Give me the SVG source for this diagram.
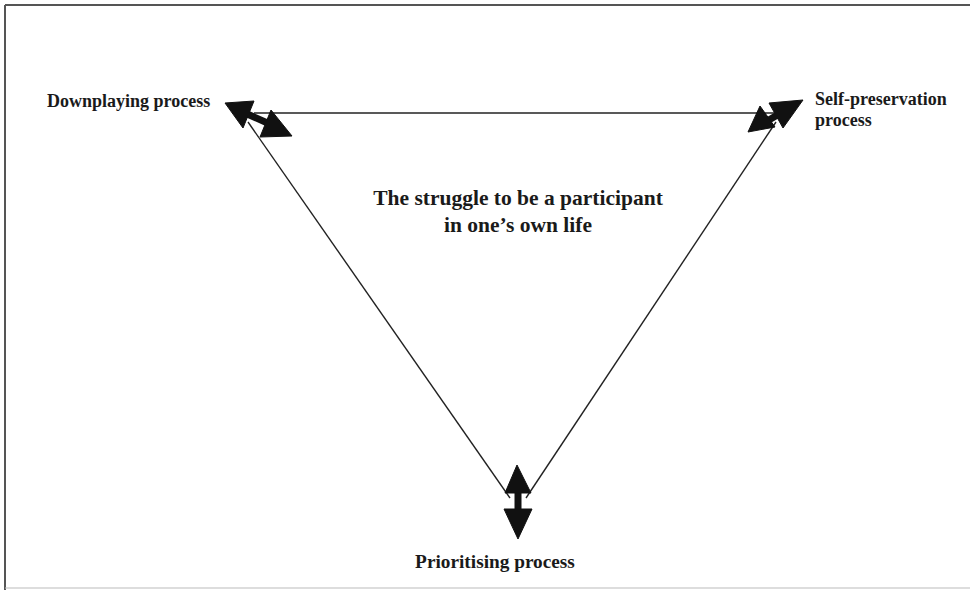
<svg xmlns="http://www.w3.org/2000/svg" width="970" height="590" viewBox="0 0 970 590">
<style>
.t{font-family:"Liberation Serif","Times New Roman",serif;font-weight:bold;font-size:18px;fill:#1a1a1a}
.c{font-size:21.5px}
.ln{stroke:#222;stroke-width:1.4;fill:none}
.ah{fill:#111;stroke:#111;stroke-width:1}
.sh{stroke:#111;stroke-width:7;fill:none}
</style>
<rect width="970" height="590" fill="#fff"/>
<g id="frame">
<line x1="5" y1="5" x2="970" y2="5" stroke="#555" stroke-width="2"/>
<line x1="5" y1="5" x2="5" y2="590" stroke="#555" stroke-width="2"/>
<line x1="5" y1="588" x2="970" y2="588" stroke="#bbb" stroke-width="1"/>
</g>
<g id="connectors">
<line class="ln" x1="254" y1="113" x2="776" y2="113"/>
<line class="ln" x1="248" y1="122" x2="510" y2="498"/>
<line class="ln" x1="776" y1="122" x2="526" y2="498"/>
<line class="sh" x1="245" y1="113" x2="272" y2="125"/>
<polygon class="ah" points="225,103 254,101 243,128"/>
<polygon class="ah" points="271,110 292,136 260,137"/>
<line class="sh" x1="762" y1="124" x2="786" y2="110"/>
<polygon class="ah" points="748,132 760,106 775,127"/>
<polygon class="ah" points="803,100 769,103 783,128"/>
<line class="sh" x1="518" y1="490" x2="518" y2="512"/>
<polygon class="ah" points="517,465 505,493 531,493"/>
<polygon class="ah" points="504,509 532,509 518,539"/>
</g>
<g id="downplaying"><text class="t" x="47" y="107">Downplaying process</text></g>
<g id="selfpreservation"><text class="t" x="815" y="105">Self-preservation</text><text class="t" x="815" y="126">process</text></g>
<g id="prioritising"><text class="t" x="495" y="568" text-anchor="middle" style="font-size:19.3px">Prioritising process</text></g>
<g id="center"><text class="t c" x="518" y="205" text-anchor="middle">The struggle to be a participant</text><text class="t c" x="518" y="232" text-anchor="middle">in one’s own life</text></g>
</svg>
